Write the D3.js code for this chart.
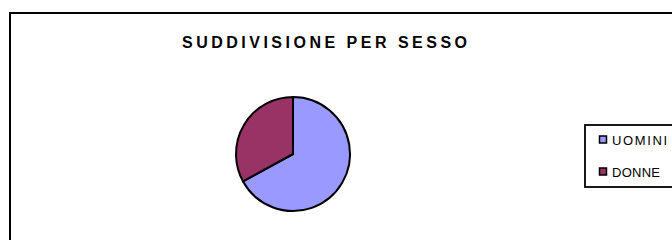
<!DOCTYPE html>
<html>
<head>
<meta charset="utf-8">
<script src="https://cdn.jsdelivr.net/npm/d3@7"></script>
<style>
  body { margin: 0; background: #fff; }
  text { font-family: "Liberation Sans", Arial, sans-serif; }
</style>
</head>
<body>
<div id="chart"></div>
<script>
(function () {

  // data
  const categories = ["UOMINI", "DONNE"]
  const values = [67, 33]
  const colors = ["#9999FF", "#993366"]
  const title = "SUDDIVISIONE PER SESSO"

  const width = 672
  const height = 240

  const svg = d3.select("#chart").append("svg")
      .attr("width", width)
      .attr("height", height)

  // outer frame (runs off the right and bottom edges)
  svg.append("rect")
    .attr("x", 10).attr("y", 13)
    .attr("width", 720).attr("height", 300)
    .attr("fill", "#fff")
    .attr("stroke", "#000")
    .attr("stroke-width", 2)

  // title
  svg.append("text")
    .attr("x", 182).attr("y", 48)
    .attr("textLength", 285)
    .attr("lengthAdjust", "spacing")
    .attr("font-size", 16)
    .attr("font-weight", "bold")
    .text(title)

  // pie
  const radius = 57
  const pie = d3.pie().sort(null).value(d => d.value)
  const arc = d3.arc().innerRadius(0).outerRadius(radius)
  const data = categories.map((c, i) => ({ name: c, value: values[i], color: colors[i] }))

  const g = svg.append("g")
    .attr("transform", "translate(293,154)")

  g.selectAll("path")
    .data(pie(data))
    .join("path")
    .attr("d", arc)
    .attr("fill", d => d.data.color)
    .attr("stroke", "#000")
    .attr("stroke-width", 2)
    .attr("stroke-linejoin", "round")

  // legend
  svg.append("rect")
    .attr("x", 585).attr("y", 125)
    .attr("width", 120).attr("height", 62)
    .attr("fill", "#fff")
    .attr("stroke", "#000")
    .attr("stroke-width", 1.8)

  const yScale = d3.scalePoint()
    .domain(categories)
    .range([140, 172])

  const textLengths = { UOMINI: 55, DONNE: 48 }

  const item = svg.selectAll(".leg")
    .data(data)
    .join("g")
    .attr("class", "leg")
    .attr("transform", d => "translate(0," + yScale(d.name) + ")")

  item.append("rect")
    .attr("x", 599.5).attr("y", -4)
    .attr("width", 7).attr("height", 7)
    .attr("fill", d => d.color)
    .attr("stroke", "#000")
    .attr("stroke-width", 1.5)

  item.append("text")
    .attr("x", 612).attr("y", 4.5)
    .attr("font-size", 13)
    .attr("textLength", d => textLengths[d.name])
    .attr("lengthAdjust", "spacing")
    .text(d => d.name)

})();
</script>
</body>
</html>
